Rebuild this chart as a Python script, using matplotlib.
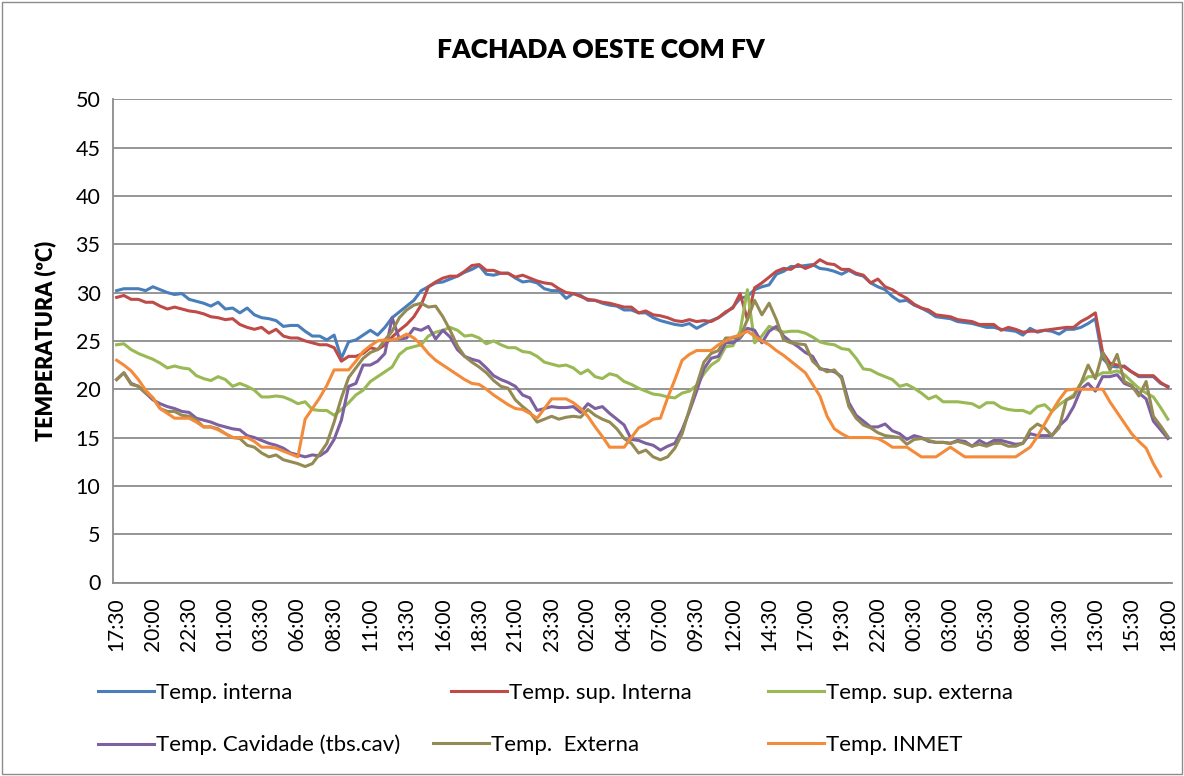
import matplotlib
matplotlib.use("Agg")
import matplotlib.pyplot as plt
from matplotlib.patches import Rectangle
import numpy as np

# ---- time labels (30-min steps, 146 points) ----
start_minutes = 17 * 60 + 30
n_points = 146
time_labels = ["%02d:%02d" % (((start_minutes + 30 * k) // 60) % 24, (start_minutes + 30 * k) % 60)
               for k in range(n_points)]

temp_interna = [
    30.2, 30.4, 30.4, 30.4, 30.2, 30.6, 30.3, 30.0, 29.8, 29.9, 29.3, 29.1, 28.9, 28.6, 29.0, 28.3, 28.4, 27.9, 28.4, 27.7, 27.4, 27.3, 27.1, 26.5, 26.6,
    26.6, 26.0, 25.5, 25.5, 25.1, 25.6, 23.2, 24.9, 25.1, 25.6, 26.1, 25.6, 26.4, 27.4, 28.0, 28.6, 29.2, 30.2, 30.6, 31.0, 31.1, 31.4, 31.7, 32.1, 32.4,
    32.8, 31.9, 31.8, 32.0, 32.0, 31.5, 31.1, 31.2, 31.0, 30.4, 30.2, 30.2, 29.4, 29.9, 29.7, 29.2, 29.2, 28.9, 28.7, 28.6, 28.2, 28.2, 27.9, 27.9, 27.4,
    27.1, 26.9, 26.7, 26.6, 26.8, 26.3, 26.7, 27.1, 27.4, 27.9, 28.5, 29.4, 29.6, 30.3, 30.6, 30.8, 31.9, 32.2, 32.7, 32.7, 32.8, 32.9, 32.5, 32.4, 32.2,
    31.9, 32.3, 31.9, 31.7, 31.0, 30.6, 30.3, 29.6, 29.1, 29.2, 28.7, 28.4, 28.0, 27.5, 27.4, 27.3, 27.0, 26.9, 26.8, 26.6, 26.4, 26.4, 26.2, 26.1, 26.0,
    25.6, 26.3, 25.9, 26.1, 26.0, 25.7, 26.2, 26.2, 26.4, 26.8, 27.3, 23.2, 22.4, 22.3, 22.4, 21.8, 21.3, 21.3, 21.3, 20.6, 20.3,
]
temp_sup_interna = [
    29.5, 29.7, 29.3, 29.3, 29.0, 29.0, 28.6, 28.3, 28.5, 28.3, 28.1, 28.0, 27.8, 27.5, 27.4, 27.2, 27.3, 26.7, 26.4, 26.2, 26.4, 25.8, 26.2, 25.5, 25.3,
    25.3, 25.0, 24.8, 24.6, 24.6, 24.3, 22.9, 23.4, 23.4, 23.7, 24.3, 24.1, 24.6, 25.4, 26.1, 26.7, 27.5, 28.7, 30.6, 31.1, 31.5, 31.7, 31.7, 32.2, 32.8,
    32.9, 32.3, 32.3, 32.0, 32.0, 31.6, 31.8, 31.5, 31.2, 31.0, 30.9, 30.4, 30.0, 29.9, 29.6, 29.3, 29.2, 29.0, 28.9, 28.7, 28.5, 28.5, 27.9, 28.1, 27.7,
    27.6, 27.4, 27.1, 27.0, 27.2, 27.0, 27.1, 27.0, 27.4, 28.0, 28.4, 29.9, 27.2, 30.5, 31.0, 31.6, 32.2, 32.5, 32.4, 32.9, 32.5, 32.8, 33.4, 33.0, 32.9,
    32.4, 32.4, 32.0, 31.8, 31.0, 31.4, 30.6, 30.3, 29.8, 29.4, 28.8, 28.4, 28.2, 27.7, 27.6, 27.5, 27.2, 27.1, 27.0, 26.7, 26.7, 26.7, 26.1, 26.4, 26.2,
    25.9, 26.0, 26.0, 26.1, 26.2, 26.3, 26.4, 26.4, 27.0, 27.4, 27.9, 23.8, 22.7, 22.5, 22.3, 21.8, 21.4, 21.4, 21.4, 20.7, 20.2,
]
temp_sup_externa = [
    24.6, 24.7, 24.1, 23.7, 23.4, 23.1, 22.7, 22.2, 22.4, 22.2, 22.1, 21.4, 21.1, 20.9, 21.3, 21.0, 20.3, 20.6, 20.3, 19.9, 19.2, 19.2, 19.3, 19.2, 18.9,
    18.5, 18.7, 17.9, 17.8, 17.8, 17.3, 17.9, 18.6, 19.4, 19.9, 20.8, 21.3, 21.8, 22.3, 23.6, 24.2, 24.4, 24.6, 25.5, 25.9, 26.1, 26.4, 26.1, 25.5, 25.6,
    25.3, 24.7, 25.0, 24.6, 24.3, 24.3, 23.9, 23.8, 23.4, 22.8, 22.6, 22.4, 22.5, 22.2, 21.6, 22.0, 21.3, 21.1, 21.6, 21.4, 20.8, 20.5, 20.1, 19.8, 19.5,
    19.4, 19.2, 19.1, 19.6, 19.8, 20.4, 21.6, 22.5, 23.0, 24.4, 24.5, 26.0, 30.3, 24.8, 25.5, 26.5, 26.2, 25.9, 26.0, 26.0, 25.8, 25.4, 24.9, 24.7, 24.6,
    24.2, 24.1, 23.2, 22.1, 22.0, 21.6, 21.3, 21.0, 20.3, 20.5, 20.1, 19.6, 19.0, 19.3, 18.7, 18.7, 18.7, 18.6, 18.5, 18.1, 18.6, 18.6, 18.1, 17.9, 17.8,
    17.8, 17.5, 18.2, 18.4, 17.7, 18.4, 18.9, 19.4, 20.6, 21.3, 21.3, 21.7, 21.7, 21.9, 21.5, 20.8, 20.1, 19.6, 19.2, 18.1, 16.9,
]
temp_cavidade = [
    21.0, 21.7, 20.6, 20.3, 19.6, 18.9, 18.5, 18.2, 18.0, 17.7, 17.6, 17.0, 16.8, 16.6, 16.3, 16.1, 15.9, 15.8, 15.2, 15.0, 14.7, 14.4, 14.2, 13.9, 13.4,
    13.2, 13.0, 13.2, 13.1, 13.6, 14.8, 16.8, 20.3, 20.6, 22.5, 22.5, 22.9, 23.7, 27.4, 25.2, 25.3, 26.3, 26.1, 26.5, 25.2, 26.1, 25.4, 24.1, 23.4, 23.1,
    22.9, 22.2, 21.4, 21.0, 20.7, 20.3, 19.4, 19.1, 17.8, 18.0, 18.2, 18.1, 18.1, 18.2, 17.6, 18.5, 18.0, 18.2, 17.5, 16.9, 16.3, 14.8, 14.7, 14.4, 14.2,
    13.7, 14.1, 14.4, 15.8, 17.7, 19.8, 22.1, 23.2, 23.4, 24.8, 24.8, 25.3, 26.3, 26.1, 24.8, 26.0, 26.5, 25.5, 24.9, 24.4, 23.8, 23.4, 22.1, 22.0, 21.8,
    21.3, 18.6, 17.3, 16.7, 16.1, 16.1, 16.4, 15.7, 15.4, 14.8, 15.2, 15.0, 14.6, 14.5, 14.5, 14.4, 14.7, 14.6, 14.1, 14.7, 14.3, 14.7, 14.7, 14.5, 14.3,
    14.4, 15.4, 15.2, 15.2, 15.2, 16.2, 16.9, 18.2, 20.0, 20.6, 19.8, 21.3, 21.3, 21.5, 20.6, 20.3, 19.6, 19.0, 16.7, 15.8, 14.9,
]
temp_externa = [
    21.0, 21.7, 20.5, 20.3, 19.6, 19.1, 18.0, 17.7, 17.7, 17.3, 17.2, 16.8, 16.1, 16.1, 15.9, 15.4, 15.0, 14.9, 14.2, 14.0, 13.4, 13.0, 13.2, 12.7, 12.5,
    12.3, 12.0, 12.3, 13.3, 14.4, 16.6, 19.1, 21.2, 22.2, 23.2, 23.8, 24.1, 25.1, 26.0, 27.4, 28.2, 28.7, 28.9, 28.5, 28.6, 27.5, 26.1, 24.5, 23.4, 22.8,
    22.3, 21.7, 20.9, 20.3, 20.1, 18.9, 18.2, 17.6, 16.6, 16.9, 17.2, 16.9, 17.1, 17.2, 17.1, 17.9, 17.3, 16.9, 16.6, 15.9, 14.9, 14.4, 13.4, 13.7, 13.0,
    12.7, 13.0, 13.9, 15.4, 17.9, 20.4, 22.8, 23.7, 24.0, 25.3, 25.3, 25.4, 27.2, 29.2, 27.7, 28.9, 27.2, 25.1, 24.8, 24.7, 24.6, 22.9, 22.2, 21.8, 22.0,
    21.1, 18.2, 17.0, 16.3, 16.0, 15.5, 15.2, 15.1, 15.0, 14.3, 14.8, 14.9, 14.7, 14.5, 14.5, 14.4, 14.6, 14.4, 14.1, 14.3, 14.1, 14.4, 14.4, 14.1, 14.1,
    14.4, 15.8, 16.4, 16.0, 15.2, 16.0, 18.9, 19.2, 20.6, 22.5, 21.1, 23.8, 22.0, 23.6, 20.8, 20.4, 19.3, 20.8, 17.2, 16.2, 15.1,
]
temp_inmet = [
    23.0, 22.5, 21.9, 21.0, 19.9, 19.1, 18.0, 17.5, 17.0, 17.0, 17.0, 16.6, 16.1, 16.1, 15.8, 15.4, 15.0, 15.0, 15.0, 14.6, 14.0, 14.0, 13.9, 13.6, 13.3,
    13.0, 16.9, 18.0, 19.1, 20.4, 22.0, 22.0, 22.0, 22.9, 23.9, 24.5, 25.0, 25.1, 25.1, 25.3, 25.7, 25.3, 24.6, 23.7, 23.0, 22.5, 22.0, 21.5, 21.0, 20.6,
    20.5, 20.0, 19.4, 18.9, 18.4, 18.0, 17.9, 17.5, 17.0, 18.0, 19.0, 19.0, 19.0, 18.6, 18.0, 17.2, 16.1, 15.1, 14.0, 14.0, 14.0, 15.0, 16.0, 16.4, 16.9,
    17.0, 19.1, 21.0, 23.0, 23.6, 24.0, 24.0, 24.0, 24.6, 25.0, 25.4, 25.6, 26.0, 25.5, 25.0, 24.6, 24.0, 23.5, 22.9, 22.3, 21.7, 20.5, 19.3, 17.2, 15.9,
    15.4, 15.0, 15.0, 15.0, 15.0, 14.9, 14.5, 14.0, 14.0, 14.0, 13.5, 13.0, 13.0, 13.0, 13.5, 14.0, 13.5, 13.0, 13.0, 13.0, 13.0, 13.0, 13.0, 13.0, 13.0,
    13.5, 14.0, 15.1, 16.4, 17.7, 18.9, 19.9, 20.0, 20.0, 20.0, 20.0, 20.0, 18.7, 17.6, 16.5, 15.4, 14.6, 13.9, 12.3, 11.0, np.nan,
]

series_names = ["Temp. interna", "Temp. sup. Interna", "Temp. sup. externa",
                "Temp. Cavidade (tbs.cav)", "Temp.  Externa", "Temp. INMET"]
series_values = [temp_interna, temp_sup_interna, temp_sup_externa,
                 temp_cavidade, temp_externa, temp_inmet]
colors = ["#4A7EBB", "#BE4B48", "#98B954", "#7D60A0", "#948A54", "#F38B3A"]

FONT = ["Lato", "DejaVu Sans"]
plt.rcParams["font.family"] = FONT

W, H = 1184, 776
fig = plt.figure(figsize=(W / 100, H / 100), dpi=100)
fig.patch.set_facecolor("white")
fig.patches.append(Rectangle((2 / W, 2 / H), (W - 4) / W, (H - 4) / H, transform=fig.transFigure,
                             fill=False, edgecolor="#8C8C8C", linewidth=1.0))

left, right, top, bottom = 113, 1171.5, 99.3, 582.5
ax = fig.add_axes([left / W, 1 - bottom / H, (right - left) / W, (bottom - top) / H])

x = np.arange(n_points)
lines = []
for vals, c, name in zip(series_values, colors, series_names):
    ln, = ax.plot(x, vals, color=c, linewidth=2.2, label=name, solid_joinstyle="round", zorder=3)
    lines.append(ln)

ax.set_xlim(-0.5, n_points - 0.5)
ax.set_ylim(0, 50)
ax.set_yticks(np.arange(0, 51, 5))
ax.yaxis.grid(True, color="#8C8C8C", linewidth=1.3)
ax.set_axisbelow(True)
tick_idx = list(range(0, n_points, 5))
ax.set_xticks(tick_idx)
ax.set_xticklabels([time_labels[i] for i in tick_idx], rotation=90, fontsize=15)
ax.tick_params(axis="both", length=0)
ax.tick_params(axis="x", pad=11)
ax.tick_params(axis="y", labelsize=15.5, pad=9)
for s in ["top", "right"]:
    ax.spines[s].set_visible(False)
for s in ["left", "bottom"]:
    ax.spines[s].set_color("#8C8C8C")
    ax.spines[s].set_linewidth(1.3)

ax.set_ylabel("TEMPERATURA (ºC)", fontsize=15.5, fontweight="heavy", labelpad=14)
fig.text(601 / W, 1 - 50 / H, "FACHADA OESTE COM FV", ha="center", va="center",
         fontsize=19, fontweight="heavy")

# legend entries placed like the reference (2 rows x 3 columns)
legend_pos = [(98, 693), (451, 693), (768, 693), (98, 745), (433, 745), (768, 745)]
for ln, (px, py) in zip(lines, legend_pos):
    fig.legend(handles=[ln], labels=[ln.get_label()], loc="center left",
               bbox_to_anchor=(px / W, 1 - py / H), frameon=False, fontsize=16,
               handlelength=2.5, handletextpad=0.1, borderpad=0, borderaxespad=0)

fig.savefig("out.png", dpi=100, facecolor="white")
